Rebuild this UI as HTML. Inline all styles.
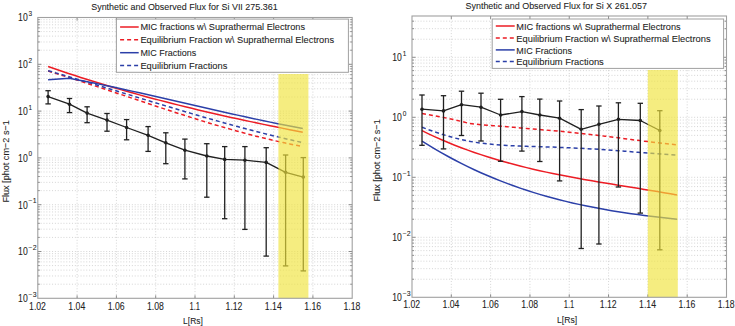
<!DOCTYPE html>
<html><head><meta charset="utf-8"><title>Synthetic and Observed Flux</title>
<style>html,body{margin:0;padding:0;background:#fff;width:735px;height:326px;overflow:hidden} text{font-family:"Liberation Sans", sans-serif;stroke:#333;stroke-width:0.08px}</style>
</head><body>
<svg width="735" height="326" viewBox="0 0 735 326" style="display:block" font-family='"Liberation Sans", sans-serif'>
<rect width="735" height="326" fill="#fff"/>
<line x1="77.1" y1="17.5" x2="77.1" y2="298.3" stroke="#d0d0d0" stroke-width="0.9" stroke-dasharray="1 1.85"/>
<line x1="116.4" y1="17.5" x2="116.4" y2="298.3" stroke="#d0d0d0" stroke-width="0.9" stroke-dasharray="1 1.85"/>
<line x1="155.7" y1="17.5" x2="155.7" y2="298.3" stroke="#d0d0d0" stroke-width="0.9" stroke-dasharray="1 1.85"/>
<line x1="195" y1="17.5" x2="195" y2="298.3" stroke="#d0d0d0" stroke-width="0.9" stroke-dasharray="1 1.85"/>
<line x1="234.3" y1="17.5" x2="234.3" y2="298.3" stroke="#d0d0d0" stroke-width="0.9" stroke-dasharray="1 1.85"/>
<line x1="273.6" y1="17.5" x2="273.6" y2="298.3" stroke="#d0d0d0" stroke-width="0.9" stroke-dasharray="1 1.85"/>
<line x1="312.9" y1="17.5" x2="312.9" y2="298.3" stroke="#d0d0d0" stroke-width="0.9" stroke-dasharray="1 1.85"/>
<line x1="37.8" y1="284.21" x2="352.2" y2="284.21" stroke="#d0d0d0" stroke-width="0.9" stroke-dasharray="1 1.85"/>
<line x1="37.8" y1="284.21" x2="39.8" y2="284.21" stroke="#808080" stroke-width="0.9"/>
<line x1="350.2" y1="284.21" x2="352.2" y2="284.21" stroke="#808080" stroke-width="0.9"/>
<line x1="37.8" y1="275.97" x2="352.2" y2="275.97" stroke="#d0d0d0" stroke-width="0.9" stroke-dasharray="1 1.85"/>
<line x1="37.8" y1="275.97" x2="39.8" y2="275.97" stroke="#808080" stroke-width="0.9"/>
<line x1="350.2" y1="275.97" x2="352.2" y2="275.97" stroke="#808080" stroke-width="0.9"/>
<line x1="37.8" y1="270.12" x2="352.2" y2="270.12" stroke="#d0d0d0" stroke-width="0.9" stroke-dasharray="1 1.85"/>
<line x1="37.8" y1="270.12" x2="39.8" y2="270.12" stroke="#808080" stroke-width="0.9"/>
<line x1="350.2" y1="270.12" x2="352.2" y2="270.12" stroke="#808080" stroke-width="0.9"/>
<line x1="37.8" y1="265.59" x2="352.2" y2="265.59" stroke="#d0d0d0" stroke-width="0.9" stroke-dasharray="1 1.85"/>
<line x1="37.8" y1="265.59" x2="39.8" y2="265.59" stroke="#808080" stroke-width="0.9"/>
<line x1="350.2" y1="265.59" x2="352.2" y2="265.59" stroke="#808080" stroke-width="0.9"/>
<line x1="37.8" y1="261.88" x2="352.2" y2="261.88" stroke="#d0d0d0" stroke-width="0.9" stroke-dasharray="1 1.85"/>
<line x1="37.8" y1="261.88" x2="39.8" y2="261.88" stroke="#808080" stroke-width="0.9"/>
<line x1="350.2" y1="261.88" x2="352.2" y2="261.88" stroke="#808080" stroke-width="0.9"/>
<line x1="37.8" y1="258.75" x2="352.2" y2="258.75" stroke="#d0d0d0" stroke-width="0.9" stroke-dasharray="1 1.85"/>
<line x1="37.8" y1="258.75" x2="39.8" y2="258.75" stroke="#808080" stroke-width="0.9"/>
<line x1="350.2" y1="258.75" x2="352.2" y2="258.75" stroke="#808080" stroke-width="0.9"/>
<line x1="37.8" y1="256.04" x2="352.2" y2="256.04" stroke="#d0d0d0" stroke-width="0.9" stroke-dasharray="1 1.85"/>
<line x1="37.8" y1="256.04" x2="39.8" y2="256.04" stroke="#808080" stroke-width="0.9"/>
<line x1="350.2" y1="256.04" x2="352.2" y2="256.04" stroke="#808080" stroke-width="0.9"/>
<line x1="37.8" y1="253.64" x2="352.2" y2="253.64" stroke="#d0d0d0" stroke-width="0.9" stroke-dasharray="1 1.85"/>
<line x1="37.8" y1="253.64" x2="39.8" y2="253.64" stroke="#808080" stroke-width="0.9"/>
<line x1="350.2" y1="253.64" x2="352.2" y2="253.64" stroke="#808080" stroke-width="0.9"/>
<line x1="37.8" y1="251.5" x2="352.2" y2="251.5" stroke="#d0d0d0" stroke-width="0.9" stroke-dasharray="1 1.85"/>
<line x1="37.8" y1="251.5" x2="41.3" y2="251.5" stroke="#808080" stroke-width="0.9"/>
<line x1="348.7" y1="251.5" x2="352.2" y2="251.5" stroke="#808080" stroke-width="0.9"/>
<line x1="37.8" y1="237.41" x2="352.2" y2="237.41" stroke="#d0d0d0" stroke-width="0.9" stroke-dasharray="1 1.85"/>
<line x1="37.8" y1="237.41" x2="39.8" y2="237.41" stroke="#808080" stroke-width="0.9"/>
<line x1="350.2" y1="237.41" x2="352.2" y2="237.41" stroke="#808080" stroke-width="0.9"/>
<line x1="37.8" y1="229.17" x2="352.2" y2="229.17" stroke="#d0d0d0" stroke-width="0.9" stroke-dasharray="1 1.85"/>
<line x1="37.8" y1="229.17" x2="39.8" y2="229.17" stroke="#808080" stroke-width="0.9"/>
<line x1="350.2" y1="229.17" x2="352.2" y2="229.17" stroke="#808080" stroke-width="0.9"/>
<line x1="37.8" y1="223.32" x2="352.2" y2="223.32" stroke="#d0d0d0" stroke-width="0.9" stroke-dasharray="1 1.85"/>
<line x1="37.8" y1="223.32" x2="39.8" y2="223.32" stroke="#808080" stroke-width="0.9"/>
<line x1="350.2" y1="223.32" x2="352.2" y2="223.32" stroke="#808080" stroke-width="0.9"/>
<line x1="37.8" y1="218.79" x2="352.2" y2="218.79" stroke="#d0d0d0" stroke-width="0.9" stroke-dasharray="1 1.85"/>
<line x1="37.8" y1="218.79" x2="39.8" y2="218.79" stroke="#808080" stroke-width="0.9"/>
<line x1="350.2" y1="218.79" x2="352.2" y2="218.79" stroke="#808080" stroke-width="0.9"/>
<line x1="37.8" y1="215.08" x2="352.2" y2="215.08" stroke="#d0d0d0" stroke-width="0.9" stroke-dasharray="1 1.85"/>
<line x1="37.8" y1="215.08" x2="39.8" y2="215.08" stroke="#808080" stroke-width="0.9"/>
<line x1="350.2" y1="215.08" x2="352.2" y2="215.08" stroke="#808080" stroke-width="0.9"/>
<line x1="37.8" y1="211.95" x2="352.2" y2="211.95" stroke="#d0d0d0" stroke-width="0.9" stroke-dasharray="1 1.85"/>
<line x1="37.8" y1="211.95" x2="39.8" y2="211.95" stroke="#808080" stroke-width="0.9"/>
<line x1="350.2" y1="211.95" x2="352.2" y2="211.95" stroke="#808080" stroke-width="0.9"/>
<line x1="37.8" y1="209.24" x2="352.2" y2="209.24" stroke="#d0d0d0" stroke-width="0.9" stroke-dasharray="1 1.85"/>
<line x1="37.8" y1="209.24" x2="39.8" y2="209.24" stroke="#808080" stroke-width="0.9"/>
<line x1="350.2" y1="209.24" x2="352.2" y2="209.24" stroke="#808080" stroke-width="0.9"/>
<line x1="37.8" y1="206.84" x2="352.2" y2="206.84" stroke="#d0d0d0" stroke-width="0.9" stroke-dasharray="1 1.85"/>
<line x1="37.8" y1="206.84" x2="39.8" y2="206.84" stroke="#808080" stroke-width="0.9"/>
<line x1="350.2" y1="206.84" x2="352.2" y2="206.84" stroke="#808080" stroke-width="0.9"/>
<line x1="37.8" y1="204.7" x2="352.2" y2="204.7" stroke="#d0d0d0" stroke-width="0.9" stroke-dasharray="1 1.85"/>
<line x1="37.8" y1="204.7" x2="41.3" y2="204.7" stroke="#808080" stroke-width="0.9"/>
<line x1="348.7" y1="204.7" x2="352.2" y2="204.7" stroke="#808080" stroke-width="0.9"/>
<line x1="37.8" y1="190.61" x2="352.2" y2="190.61" stroke="#d0d0d0" stroke-width="0.9" stroke-dasharray="1 1.85"/>
<line x1="37.8" y1="190.61" x2="39.8" y2="190.61" stroke="#808080" stroke-width="0.9"/>
<line x1="350.2" y1="190.61" x2="352.2" y2="190.61" stroke="#808080" stroke-width="0.9"/>
<line x1="37.8" y1="182.37" x2="352.2" y2="182.37" stroke="#d0d0d0" stroke-width="0.9" stroke-dasharray="1 1.85"/>
<line x1="37.8" y1="182.37" x2="39.8" y2="182.37" stroke="#808080" stroke-width="0.9"/>
<line x1="350.2" y1="182.37" x2="352.2" y2="182.37" stroke="#808080" stroke-width="0.9"/>
<line x1="37.8" y1="176.52" x2="352.2" y2="176.52" stroke="#d0d0d0" stroke-width="0.9" stroke-dasharray="1 1.85"/>
<line x1="37.8" y1="176.52" x2="39.8" y2="176.52" stroke="#808080" stroke-width="0.9"/>
<line x1="350.2" y1="176.52" x2="352.2" y2="176.52" stroke="#808080" stroke-width="0.9"/>
<line x1="37.8" y1="171.99" x2="352.2" y2="171.99" stroke="#d0d0d0" stroke-width="0.9" stroke-dasharray="1 1.85"/>
<line x1="37.8" y1="171.99" x2="39.8" y2="171.99" stroke="#808080" stroke-width="0.9"/>
<line x1="350.2" y1="171.99" x2="352.2" y2="171.99" stroke="#808080" stroke-width="0.9"/>
<line x1="37.8" y1="168.28" x2="352.2" y2="168.28" stroke="#d0d0d0" stroke-width="0.9" stroke-dasharray="1 1.85"/>
<line x1="37.8" y1="168.28" x2="39.8" y2="168.28" stroke="#808080" stroke-width="0.9"/>
<line x1="350.2" y1="168.28" x2="352.2" y2="168.28" stroke="#808080" stroke-width="0.9"/>
<line x1="37.8" y1="165.15" x2="352.2" y2="165.15" stroke="#d0d0d0" stroke-width="0.9" stroke-dasharray="1 1.85"/>
<line x1="37.8" y1="165.15" x2="39.8" y2="165.15" stroke="#808080" stroke-width="0.9"/>
<line x1="350.2" y1="165.15" x2="352.2" y2="165.15" stroke="#808080" stroke-width="0.9"/>
<line x1="37.8" y1="162.44" x2="352.2" y2="162.44" stroke="#d0d0d0" stroke-width="0.9" stroke-dasharray="1 1.85"/>
<line x1="37.8" y1="162.44" x2="39.8" y2="162.44" stroke="#808080" stroke-width="0.9"/>
<line x1="350.2" y1="162.44" x2="352.2" y2="162.44" stroke="#808080" stroke-width="0.9"/>
<line x1="37.8" y1="160.04" x2="352.2" y2="160.04" stroke="#d0d0d0" stroke-width="0.9" stroke-dasharray="1 1.85"/>
<line x1="37.8" y1="160.04" x2="39.8" y2="160.04" stroke="#808080" stroke-width="0.9"/>
<line x1="350.2" y1="160.04" x2="352.2" y2="160.04" stroke="#808080" stroke-width="0.9"/>
<line x1="37.8" y1="157.9" x2="352.2" y2="157.9" stroke="#d0d0d0" stroke-width="0.9" stroke-dasharray="1 1.85"/>
<line x1="37.8" y1="157.9" x2="41.3" y2="157.9" stroke="#808080" stroke-width="0.9"/>
<line x1="348.7" y1="157.9" x2="352.2" y2="157.9" stroke="#808080" stroke-width="0.9"/>
<line x1="37.8" y1="143.81" x2="352.2" y2="143.81" stroke="#d0d0d0" stroke-width="0.9" stroke-dasharray="1 1.85"/>
<line x1="37.8" y1="143.81" x2="39.8" y2="143.81" stroke="#808080" stroke-width="0.9"/>
<line x1="350.2" y1="143.81" x2="352.2" y2="143.81" stroke="#808080" stroke-width="0.9"/>
<line x1="37.8" y1="135.57" x2="352.2" y2="135.57" stroke="#d0d0d0" stroke-width="0.9" stroke-dasharray="1 1.85"/>
<line x1="37.8" y1="135.57" x2="39.8" y2="135.57" stroke="#808080" stroke-width="0.9"/>
<line x1="350.2" y1="135.57" x2="352.2" y2="135.57" stroke="#808080" stroke-width="0.9"/>
<line x1="37.8" y1="129.72" x2="352.2" y2="129.72" stroke="#d0d0d0" stroke-width="0.9" stroke-dasharray="1 1.85"/>
<line x1="37.8" y1="129.72" x2="39.8" y2="129.72" stroke="#808080" stroke-width="0.9"/>
<line x1="350.2" y1="129.72" x2="352.2" y2="129.72" stroke="#808080" stroke-width="0.9"/>
<line x1="37.8" y1="125.19" x2="352.2" y2="125.19" stroke="#d0d0d0" stroke-width="0.9" stroke-dasharray="1 1.85"/>
<line x1="37.8" y1="125.19" x2="39.8" y2="125.19" stroke="#808080" stroke-width="0.9"/>
<line x1="350.2" y1="125.19" x2="352.2" y2="125.19" stroke="#808080" stroke-width="0.9"/>
<line x1="37.8" y1="121.48" x2="352.2" y2="121.48" stroke="#d0d0d0" stroke-width="0.9" stroke-dasharray="1 1.85"/>
<line x1="37.8" y1="121.48" x2="39.8" y2="121.48" stroke="#808080" stroke-width="0.9"/>
<line x1="350.2" y1="121.48" x2="352.2" y2="121.48" stroke="#808080" stroke-width="0.9"/>
<line x1="37.8" y1="118.35" x2="352.2" y2="118.35" stroke="#d0d0d0" stroke-width="0.9" stroke-dasharray="1 1.85"/>
<line x1="37.8" y1="118.35" x2="39.8" y2="118.35" stroke="#808080" stroke-width="0.9"/>
<line x1="350.2" y1="118.35" x2="352.2" y2="118.35" stroke="#808080" stroke-width="0.9"/>
<line x1="37.8" y1="115.64" x2="352.2" y2="115.64" stroke="#d0d0d0" stroke-width="0.9" stroke-dasharray="1 1.85"/>
<line x1="37.8" y1="115.64" x2="39.8" y2="115.64" stroke="#808080" stroke-width="0.9"/>
<line x1="350.2" y1="115.64" x2="352.2" y2="115.64" stroke="#808080" stroke-width="0.9"/>
<line x1="37.8" y1="113.24" x2="352.2" y2="113.24" stroke="#d0d0d0" stroke-width="0.9" stroke-dasharray="1 1.85"/>
<line x1="37.8" y1="113.24" x2="39.8" y2="113.24" stroke="#808080" stroke-width="0.9"/>
<line x1="350.2" y1="113.24" x2="352.2" y2="113.24" stroke="#808080" stroke-width="0.9"/>
<line x1="37.8" y1="111.1" x2="352.2" y2="111.1" stroke="#d0d0d0" stroke-width="0.9" stroke-dasharray="1 1.85"/>
<line x1="37.8" y1="111.1" x2="41.3" y2="111.1" stroke="#808080" stroke-width="0.9"/>
<line x1="348.7" y1="111.1" x2="352.2" y2="111.1" stroke="#808080" stroke-width="0.9"/>
<line x1="37.8" y1="97.01" x2="352.2" y2="97.01" stroke="#d0d0d0" stroke-width="0.9" stroke-dasharray="1 1.85"/>
<line x1="37.8" y1="97.01" x2="39.8" y2="97.01" stroke="#808080" stroke-width="0.9"/>
<line x1="350.2" y1="97.01" x2="352.2" y2="97.01" stroke="#808080" stroke-width="0.9"/>
<line x1="37.8" y1="88.77" x2="352.2" y2="88.77" stroke="#d0d0d0" stroke-width="0.9" stroke-dasharray="1 1.85"/>
<line x1="37.8" y1="88.77" x2="39.8" y2="88.77" stroke="#808080" stroke-width="0.9"/>
<line x1="350.2" y1="88.77" x2="352.2" y2="88.77" stroke="#808080" stroke-width="0.9"/>
<line x1="37.8" y1="82.92" x2="352.2" y2="82.92" stroke="#d0d0d0" stroke-width="0.9" stroke-dasharray="1 1.85"/>
<line x1="37.8" y1="82.92" x2="39.8" y2="82.92" stroke="#808080" stroke-width="0.9"/>
<line x1="350.2" y1="82.92" x2="352.2" y2="82.92" stroke="#808080" stroke-width="0.9"/>
<line x1="37.8" y1="78.39" x2="352.2" y2="78.39" stroke="#d0d0d0" stroke-width="0.9" stroke-dasharray="1 1.85"/>
<line x1="37.8" y1="78.39" x2="39.8" y2="78.39" stroke="#808080" stroke-width="0.9"/>
<line x1="350.2" y1="78.39" x2="352.2" y2="78.39" stroke="#808080" stroke-width="0.9"/>
<line x1="37.8" y1="74.68" x2="352.2" y2="74.68" stroke="#d0d0d0" stroke-width="0.9" stroke-dasharray="1 1.85"/>
<line x1="37.8" y1="74.68" x2="39.8" y2="74.68" stroke="#808080" stroke-width="0.9"/>
<line x1="350.2" y1="74.68" x2="352.2" y2="74.68" stroke="#808080" stroke-width="0.9"/>
<line x1="37.8" y1="71.55" x2="352.2" y2="71.55" stroke="#d0d0d0" stroke-width="0.9" stroke-dasharray="1 1.85"/>
<line x1="37.8" y1="71.55" x2="39.8" y2="71.55" stroke="#808080" stroke-width="0.9"/>
<line x1="350.2" y1="71.55" x2="352.2" y2="71.55" stroke="#808080" stroke-width="0.9"/>
<line x1="37.8" y1="68.84" x2="352.2" y2="68.84" stroke="#d0d0d0" stroke-width="0.9" stroke-dasharray="1 1.85"/>
<line x1="37.8" y1="68.84" x2="39.8" y2="68.84" stroke="#808080" stroke-width="0.9"/>
<line x1="350.2" y1="68.84" x2="352.2" y2="68.84" stroke="#808080" stroke-width="0.9"/>
<line x1="37.8" y1="66.44" x2="352.2" y2="66.44" stroke="#d0d0d0" stroke-width="0.9" stroke-dasharray="1 1.85"/>
<line x1="37.8" y1="66.44" x2="39.8" y2="66.44" stroke="#808080" stroke-width="0.9"/>
<line x1="350.2" y1="66.44" x2="352.2" y2="66.44" stroke="#808080" stroke-width="0.9"/>
<line x1="37.8" y1="64.3" x2="352.2" y2="64.3" stroke="#d0d0d0" stroke-width="0.9" stroke-dasharray="1 1.85"/>
<line x1="37.8" y1="64.3" x2="41.3" y2="64.3" stroke="#808080" stroke-width="0.9"/>
<line x1="348.7" y1="64.3" x2="352.2" y2="64.3" stroke="#808080" stroke-width="0.9"/>
<line x1="37.8" y1="50.21" x2="352.2" y2="50.21" stroke="#d0d0d0" stroke-width="0.9" stroke-dasharray="1 1.85"/>
<line x1="37.8" y1="50.21" x2="39.8" y2="50.21" stroke="#808080" stroke-width="0.9"/>
<line x1="350.2" y1="50.21" x2="352.2" y2="50.21" stroke="#808080" stroke-width="0.9"/>
<line x1="37.8" y1="41.97" x2="352.2" y2="41.97" stroke="#d0d0d0" stroke-width="0.9" stroke-dasharray="1 1.85"/>
<line x1="37.8" y1="41.97" x2="39.8" y2="41.97" stroke="#808080" stroke-width="0.9"/>
<line x1="350.2" y1="41.97" x2="352.2" y2="41.97" stroke="#808080" stroke-width="0.9"/>
<line x1="37.8" y1="36.12" x2="352.2" y2="36.12" stroke="#d0d0d0" stroke-width="0.9" stroke-dasharray="1 1.85"/>
<line x1="37.8" y1="36.12" x2="39.8" y2="36.12" stroke="#808080" stroke-width="0.9"/>
<line x1="350.2" y1="36.12" x2="352.2" y2="36.12" stroke="#808080" stroke-width="0.9"/>
<line x1="37.8" y1="31.59" x2="352.2" y2="31.59" stroke="#d0d0d0" stroke-width="0.9" stroke-dasharray="1 1.85"/>
<line x1="37.8" y1="31.59" x2="39.8" y2="31.59" stroke="#808080" stroke-width="0.9"/>
<line x1="350.2" y1="31.59" x2="352.2" y2="31.59" stroke="#808080" stroke-width="0.9"/>
<line x1="37.8" y1="27.88" x2="352.2" y2="27.88" stroke="#d0d0d0" stroke-width="0.9" stroke-dasharray="1 1.85"/>
<line x1="37.8" y1="27.88" x2="39.8" y2="27.88" stroke="#808080" stroke-width="0.9"/>
<line x1="350.2" y1="27.88" x2="352.2" y2="27.88" stroke="#808080" stroke-width="0.9"/>
<line x1="37.8" y1="24.75" x2="352.2" y2="24.75" stroke="#d0d0d0" stroke-width="0.9" stroke-dasharray="1 1.85"/>
<line x1="37.8" y1="24.75" x2="39.8" y2="24.75" stroke="#808080" stroke-width="0.9"/>
<line x1="350.2" y1="24.75" x2="352.2" y2="24.75" stroke="#808080" stroke-width="0.9"/>
<line x1="37.8" y1="22.04" x2="352.2" y2="22.04" stroke="#d0d0d0" stroke-width="0.9" stroke-dasharray="1 1.85"/>
<line x1="37.8" y1="22.04" x2="39.8" y2="22.04" stroke="#808080" stroke-width="0.9"/>
<line x1="350.2" y1="22.04" x2="352.2" y2="22.04" stroke="#808080" stroke-width="0.9"/>
<line x1="37.8" y1="19.64" x2="352.2" y2="19.64" stroke="#d0d0d0" stroke-width="0.9" stroke-dasharray="1 1.85"/>
<line x1="37.8" y1="19.64" x2="39.8" y2="19.64" stroke="#808080" stroke-width="0.9"/>
<line x1="350.2" y1="19.64" x2="352.2" y2="19.64" stroke="#808080" stroke-width="0.9"/>
<line x1="77.1" y1="298.3" x2="77.1" y2="295.3" stroke="#808080" stroke-width="0.9"/>
<line x1="77.1" y1="17.5" x2="77.1" y2="20.5" stroke="#808080" stroke-width="0.9"/>
<line x1="116.4" y1="298.3" x2="116.4" y2="295.3" stroke="#808080" stroke-width="0.9"/>
<line x1="116.4" y1="17.5" x2="116.4" y2="20.5" stroke="#808080" stroke-width="0.9"/>
<line x1="155.7" y1="298.3" x2="155.7" y2="295.3" stroke="#808080" stroke-width="0.9"/>
<line x1="155.7" y1="17.5" x2="155.7" y2="20.5" stroke="#808080" stroke-width="0.9"/>
<line x1="195" y1="298.3" x2="195" y2="295.3" stroke="#808080" stroke-width="0.9"/>
<line x1="195" y1="17.5" x2="195" y2="20.5" stroke="#808080" stroke-width="0.9"/>
<line x1="234.3" y1="298.3" x2="234.3" y2="295.3" stroke="#808080" stroke-width="0.9"/>
<line x1="234.3" y1="17.5" x2="234.3" y2="20.5" stroke="#808080" stroke-width="0.9"/>
<line x1="273.6" y1="298.3" x2="273.6" y2="295.3" stroke="#808080" stroke-width="0.9"/>
<line x1="273.6" y1="17.5" x2="273.6" y2="20.5" stroke="#808080" stroke-width="0.9"/>
<line x1="312.9" y1="298.3" x2="312.9" y2="295.3" stroke="#808080" stroke-width="0.9"/>
<line x1="312.9" y1="17.5" x2="312.9" y2="20.5" stroke="#808080" stroke-width="0.9"/>
<polyline points="48.1,66.52 54.63,68.78 61.16,71.01 67.69,73.19 74.22,75.33 80.75,77.44 87.28,79.52 93.82,81.55 100.35,83.56 106.88,85.52 113.41,87.46 119.94,89.36 126.47,91.23 133,93.07 139.53,94.88 146.06,96.66 152.59,98.41 159.12,100.13 165.65,101.83 172.18,103.5 178.72,105.14 185.25,106.75 191.78,108.34 198.31,109.91 204.84,111.45 211.37,112.97 217.9,114.47 224.43,115.94 230.96,117.4 237.49,118.83 244.02,120.25 250.55,121.64 257.08,123.02 263.62,124.38 270.15,125.73 276.68,127.06 283.21,128.37 289.74,129.67 296.27,130.96 302.8,132.23" fill="none" stroke="#ec1c24" stroke-width="1.5" stroke-linejoin="round"/>
<polyline points="48.1,71.08 54.63,73.07 61.16,75.08 67.69,77.13 74.22,79.2 80.75,81.29 87.28,83.4 93.82,85.53 100.35,87.67 106.88,89.83 113.41,91.99 119.94,94.16 126.47,96.33 133,98.51 139.53,100.68 146.06,102.85 152.59,105.01 159.12,107.16 165.65,109.3 172.18,111.42 178.72,113.53 185.25,115.61 191.78,117.67 198.31,119.71 204.84,121.72 211.37,123.69 217.9,125.63 224.43,127.54 230.96,129.4 237.49,131.22 244.02,133 250.55,134.73 257.08,136.41 263.62,138.03 270.15,139.6 276.68,141.12 283.21,142.57 289.74,143.95 296.27,145.27 302.8,146.53" fill="none" stroke="#ec1c24" stroke-width="1.5" stroke-dasharray="4 3" stroke-linejoin="round"/>
<polyline points="48.1,79.8 69.6,78.3 74.22,79.18 80.75,80.43 87.28,81.71 93.82,83.02 100.35,84.36 106.88,85.72 113.41,87.1 119.94,88.5 126.47,89.92 133,91.36 139.53,92.82 146.06,94.28 152.59,95.76 159.12,97.25 165.65,98.74 172.18,100.24 178.72,101.74 185.25,103.25 191.78,104.75 198.31,106.26 204.84,107.76 211.37,109.25 217.9,110.74 224.43,112.21 230.96,113.68 237.49,115.13 244.02,116.57 250.55,117.99 257.08,119.39 263.62,120.77 270.15,122.13 276.68,123.46 283.21,124.77 289.74,126.05 296.27,127.3 302.8,128.52" fill="none" stroke="#2b3fa8" stroke-width="1.5" stroke-linejoin="round"/>
<polyline points="48.1,70.72 54.63,72.59 61.16,74.47 67.69,76.37 74.22,78.29 80.75,80.22 87.28,82.16 93.82,84.12 100.35,86.08 106.88,88.05 113.41,90.03 119.94,92.01 126.47,94 133,95.98 139.53,97.97 146.06,99.95 152.59,101.93 159.12,103.9 165.65,105.86 172.18,107.82 178.72,109.77 185.25,111.7 191.78,113.62 198.31,115.53 204.84,117.42 211.37,119.29 217.9,121.14 224.43,122.97 230.96,124.77 237.49,126.55 244.02,128.3 250.55,130.03 257.08,131.72 263.62,133.38 270.15,135.01 276.68,136.61 283.21,138.16 289.74,139.68 296.27,141.16 302.8,142.6" fill="none" stroke="#2b3fa8" stroke-width="1.5" stroke-dasharray="4 3" stroke-linejoin="round"/>
<polyline points="48.1,96.6 69.5,104.2 87.1,113.1 107,120.1 126.6,127.5 148.1,135.3 165.8,142.8 184.9,150.2 206.8,156 224.7,159.4 244.9,160.2 266.2,162.4 285.6,172.3 303.3,177.1" fill="none" stroke="#202020" stroke-width="1.3" stroke-linejoin="round"/>
<line x1="48.1" y1="90.7" x2="48.1" y2="103.9" stroke="#202020" stroke-width="1.3"/>
<line x1="45.4" y1="90.7" x2="50.8" y2="90.7" stroke="#202020" stroke-width="1.3"/>
<line x1="45.4" y1="103.9" x2="50.8" y2="103.9" stroke="#202020" stroke-width="1.3"/>
<circle cx="48.1" cy="96.6" r="1.8" fill="#202020"/>
<line x1="69.5" y1="98.5" x2="69.5" y2="112.6" stroke="#202020" stroke-width="1.3"/>
<line x1="66.8" y1="98.5" x2="72.2" y2="98.5" stroke="#202020" stroke-width="1.3"/>
<line x1="66.8" y1="112.6" x2="72.2" y2="112.6" stroke="#202020" stroke-width="1.3"/>
<circle cx="69.5" cy="104.2" r="1.8" fill="#202020"/>
<line x1="87.1" y1="106.8" x2="87.1" y2="122.7" stroke="#202020" stroke-width="1.3"/>
<line x1="84.4" y1="106.8" x2="89.8" y2="106.8" stroke="#202020" stroke-width="1.3"/>
<line x1="84.4" y1="122.7" x2="89.8" y2="122.7" stroke="#202020" stroke-width="1.3"/>
<circle cx="87.1" cy="113.1" r="1.8" fill="#202020"/>
<line x1="107" y1="113.5" x2="107" y2="131.2" stroke="#202020" stroke-width="1.3"/>
<line x1="104.3" y1="113.5" x2="109.7" y2="113.5" stroke="#202020" stroke-width="1.3"/>
<line x1="104.3" y1="131.2" x2="109.7" y2="131.2" stroke="#202020" stroke-width="1.3"/>
<circle cx="107" cy="120.1" r="1.8" fill="#202020"/>
<line x1="126.6" y1="119.6" x2="126.6" y2="139.8" stroke="#202020" stroke-width="1.3"/>
<line x1="123.9" y1="119.6" x2="129.3" y2="119.6" stroke="#202020" stroke-width="1.3"/>
<line x1="123.9" y1="139.8" x2="129.3" y2="139.8" stroke="#202020" stroke-width="1.3"/>
<circle cx="126.6" cy="127.5" r="1.8" fill="#202020"/>
<line x1="148.1" y1="126.6" x2="148.1" y2="151.4" stroke="#202020" stroke-width="1.3"/>
<line x1="145.4" y1="126.6" x2="150.8" y2="126.6" stroke="#202020" stroke-width="1.3"/>
<line x1="145.4" y1="151.4" x2="150.8" y2="151.4" stroke="#202020" stroke-width="1.3"/>
<circle cx="148.1" cy="135.3" r="1.8" fill="#202020"/>
<line x1="165.8" y1="132.8" x2="165.8" y2="163.7" stroke="#202020" stroke-width="1.3"/>
<line x1="163.1" y1="132.8" x2="168.5" y2="132.8" stroke="#202020" stroke-width="1.3"/>
<line x1="163.1" y1="163.7" x2="168.5" y2="163.7" stroke="#202020" stroke-width="1.3"/>
<circle cx="165.8" cy="142.8" r="1.8" fill="#202020"/>
<line x1="184.9" y1="139.1" x2="184.9" y2="178.9" stroke="#202020" stroke-width="1.3"/>
<line x1="182.2" y1="139.1" x2="187.6" y2="139.1" stroke="#202020" stroke-width="1.3"/>
<line x1="182.2" y1="178.9" x2="187.6" y2="178.9" stroke="#202020" stroke-width="1.3"/>
<circle cx="184.9" cy="150.2" r="1.8" fill="#202020"/>
<line x1="206.8" y1="143.7" x2="206.8" y2="197.2" stroke="#202020" stroke-width="1.3"/>
<line x1="204.1" y1="143.7" x2="209.5" y2="143.7" stroke="#202020" stroke-width="1.3"/>
<line x1="204.1" y1="197.2" x2="209.5" y2="197.2" stroke="#202020" stroke-width="1.3"/>
<circle cx="206.8" cy="156" r="1.8" fill="#202020"/>
<line x1="224.7" y1="146.6" x2="224.7" y2="218.7" stroke="#202020" stroke-width="1.3"/>
<line x1="222" y1="146.6" x2="227.4" y2="146.6" stroke="#202020" stroke-width="1.3"/>
<line x1="222" y1="218.7" x2="227.4" y2="218.7" stroke="#202020" stroke-width="1.3"/>
<circle cx="224.7" cy="159.4" r="1.8" fill="#202020"/>
<line x1="244.9" y1="146.6" x2="244.9" y2="229.4" stroke="#202020" stroke-width="1.3"/>
<line x1="242.2" y1="146.6" x2="247.6" y2="146.6" stroke="#202020" stroke-width="1.3"/>
<line x1="242.2" y1="229.4" x2="247.6" y2="229.4" stroke="#202020" stroke-width="1.3"/>
<circle cx="244.9" cy="160.2" r="1.8" fill="#202020"/>
<line x1="266.2" y1="147.7" x2="266.2" y2="256.1" stroke="#202020" stroke-width="1.3"/>
<line x1="263.5" y1="147.7" x2="268.9" y2="147.7" stroke="#202020" stroke-width="1.3"/>
<line x1="263.5" y1="256.1" x2="268.9" y2="256.1" stroke="#202020" stroke-width="1.3"/>
<circle cx="266.2" cy="162.4" r="1.8" fill="#202020"/>
<line x1="285.6" y1="155" x2="285.6" y2="265.9" stroke="#202020" stroke-width="1.3"/>
<line x1="282.9" y1="155" x2="288.3" y2="155" stroke="#202020" stroke-width="1.3"/>
<line x1="282.9" y1="265.9" x2="288.3" y2="265.9" stroke="#202020" stroke-width="1.3"/>
<circle cx="285.6" cy="172.3" r="1.8" fill="#202020"/>
<line x1="303.3" y1="157.6" x2="303.3" y2="270.9" stroke="#202020" stroke-width="1.3"/>
<line x1="300.6" y1="157.6" x2="306" y2="157.6" stroke="#202020" stroke-width="1.3"/>
<line x1="300.6" y1="270.9" x2="306" y2="270.9" stroke="#202020" stroke-width="1.3"/>
<circle cx="303.3" cy="177.1" r="1.8" fill="#202020"/>
<rect x="278.4" y="74" width="30" height="224.3" fill="#f0e43c" fill-opacity="0.65"/>
<rect x="116.4" y="19.1" width="232" height="53.2" fill="#ffffff" stroke="#a0a0a0" stroke-width="1"/>
<polyline points="120.1,27 138.7,27" fill="none" stroke="#ec1c24" stroke-width="1.5" stroke-linejoin="round"/>
<text x="140.4" y="30.4" font-size="9.8" text-anchor="start" fill="#1a1a1a" textLength="164.6" lengthAdjust="spacingAndGlyphs">MIC fractions w\ Suprathermal Electrons</text>
<polyline points="120.1,39.8 138.7,39.8" fill="none" stroke="#ec1c24" stroke-width="1.5" stroke-dasharray="4 3" stroke-linejoin="round"/>
<text x="140.4" y="43.2" font-size="9.8" text-anchor="start" fill="#1a1a1a" textLength="193.7" lengthAdjust="spacingAndGlyphs">Equilibrium Fraction w\ Suprathermal Electrons</text>
<polyline points="120.1,52.7 138.7,52.7" fill="none" stroke="#2b3fa8" stroke-width="1.5" stroke-linejoin="round"/>
<text x="140.4" y="56.1" font-size="9.8" text-anchor="start" fill="#1a1a1a" textLength="55.8" lengthAdjust="spacingAndGlyphs">MIC Fractions</text>
<polyline points="120.1,65.4 138.7,65.4" fill="none" stroke="#2b3fa8" stroke-width="1.5" stroke-dasharray="4 3" stroke-linejoin="round"/>
<text x="140.4" y="68.8" font-size="9.8" text-anchor="start" fill="#1a1a1a" textLength="87" lengthAdjust="spacingAndGlyphs">Equilibrium Fractions</text>
<rect x="37.8" y="17.5" width="314.4" height="280.8" fill="none" stroke="#a0a0a0" stroke-width="1.1"/>
<text x="29.05" y="309.6" font-size="10.2" text-anchor="start" fill="#1a1a1a" textLength="16.9" lengthAdjust="spacingAndGlyphs">1.02</text>
<text x="68.35" y="309.6" font-size="10.2" text-anchor="start" fill="#1a1a1a" textLength="16.9" lengthAdjust="spacingAndGlyphs">1.04</text>
<text x="107.65" y="309.6" font-size="10.2" text-anchor="start" fill="#1a1a1a" textLength="16.9" lengthAdjust="spacingAndGlyphs">1.06</text>
<text x="146.95" y="309.6" font-size="10.2" text-anchor="start" fill="#1a1a1a" textLength="16.9" lengthAdjust="spacingAndGlyphs">1.08</text>
<text x="189.45" y="309.6" font-size="10.2" text-anchor="start" fill="#1a1a1a" textLength="10.5" lengthAdjust="spacingAndGlyphs">1.1</text>
<text x="225.55" y="309.6" font-size="10.2" text-anchor="start" fill="#1a1a1a" textLength="16.9" lengthAdjust="spacingAndGlyphs">1.12</text>
<text x="264.85" y="309.6" font-size="10.2" text-anchor="start" fill="#1a1a1a" textLength="16.9" lengthAdjust="spacingAndGlyphs">1.14</text>
<text x="304.15" y="309.6" font-size="10.2" text-anchor="start" fill="#1a1a1a" textLength="16.9" lengthAdjust="spacingAndGlyphs">1.16</text>
<text x="343.45" y="309.6" font-size="10.2" text-anchor="start" fill="#1a1a1a" textLength="16.9" lengthAdjust="spacingAndGlyphs">1.18</text>
<text x="18.1" y="302.2" font-size="10.2" text-anchor="start" fill="#1a1a1a" textLength="9.6" lengthAdjust="spacingAndGlyphs">10</text>
<text x="28.6" y="296.8" font-size="6.5" text-anchor="start" fill="#1a1a1a" textLength="7.9" lengthAdjust="spacingAndGlyphs">−3</text>
<text x="18.1" y="255.4" font-size="10.2" text-anchor="start" fill="#1a1a1a" textLength="9.6" lengthAdjust="spacingAndGlyphs">10</text>
<text x="28.6" y="250" font-size="6.5" text-anchor="start" fill="#1a1a1a" textLength="7.9" lengthAdjust="spacingAndGlyphs">−2</text>
<text x="18.1" y="208.6" font-size="10.2" text-anchor="start" fill="#1a1a1a" textLength="9.6" lengthAdjust="spacingAndGlyphs">10</text>
<text x="28.6" y="203.2" font-size="6.5" text-anchor="start" fill="#1a1a1a" textLength="7.9" lengthAdjust="spacingAndGlyphs">−1</text>
<text x="18.1" y="161.8" font-size="10.2" text-anchor="start" fill="#1a1a1a" textLength="9.6" lengthAdjust="spacingAndGlyphs">10</text>
<text x="28.6" y="156.4" font-size="6.5" text-anchor="start" fill="#1a1a1a" textLength="3.6" lengthAdjust="spacingAndGlyphs">0</text>
<text x="18.1" y="115" font-size="10.2" text-anchor="start" fill="#1a1a1a" textLength="9.6" lengthAdjust="spacingAndGlyphs">10</text>
<text x="28.6" y="109.6" font-size="6.5" text-anchor="start" fill="#1a1a1a" textLength="3.6" lengthAdjust="spacingAndGlyphs">1</text>
<text x="18.1" y="68.2" font-size="10.2" text-anchor="start" fill="#1a1a1a" textLength="9.6" lengthAdjust="spacingAndGlyphs">10</text>
<text x="28.6" y="62.8" font-size="6.5" text-anchor="start" fill="#1a1a1a" textLength="3.6" lengthAdjust="spacingAndGlyphs">2</text>
<text x="18.1" y="21.4" font-size="10.2" text-anchor="start" fill="#1a1a1a" textLength="9.6" lengthAdjust="spacingAndGlyphs">10</text>
<text x="28.6" y="16" font-size="6.5" text-anchor="start" fill="#1a1a1a" textLength="3.6" lengthAdjust="spacingAndGlyphs">3</text>
<text x="91.2" y="9.6" font-size="9.8" text-anchor="start" fill="#1a1a1a" textLength="186.5" lengthAdjust="spacingAndGlyphs">Synthetic and Observed Flux for Si VII 275.361</text>
<text x="183.1" y="323.5" font-size="9.8" text-anchor="start" fill="#1a1a1a" textLength="19.7" lengthAdjust="spacingAndGlyphs">L[Rs]</text>
<text x="0" y="0" font-size="9.8" fill="#1a1a1a" textLength="82.4" lengthAdjust="spacingAndGlyphs" transform="translate(8.9,202.6) rotate(-90)">Flux [phot cm−2 s−1</text>
<line x1="451.31" y1="16" x2="451.31" y2="297.3" stroke="#d0d0d0" stroke-width="0.9" stroke-dasharray="1 1.85"/>
<line x1="490.62" y1="16" x2="490.62" y2="297.3" stroke="#d0d0d0" stroke-width="0.9" stroke-dasharray="1 1.85"/>
<line x1="529.94" y1="16" x2="529.94" y2="297.3" stroke="#d0d0d0" stroke-width="0.9" stroke-dasharray="1 1.85"/>
<line x1="569.25" y1="16" x2="569.25" y2="297.3" stroke="#d0d0d0" stroke-width="0.9" stroke-dasharray="1 1.85"/>
<line x1="608.56" y1="16" x2="608.56" y2="297.3" stroke="#d0d0d0" stroke-width="0.9" stroke-dasharray="1 1.85"/>
<line x1="647.88" y1="16" x2="647.88" y2="297.3" stroke="#d0d0d0" stroke-width="0.9" stroke-dasharray="1 1.85"/>
<line x1="687.19" y1="16" x2="687.19" y2="297.3" stroke="#d0d0d0" stroke-width="0.9" stroke-dasharray="1 1.85"/>
<line x1="412" y1="279.24" x2="726.5" y2="279.24" stroke="#d0d0d0" stroke-width="0.9" stroke-dasharray="1 1.85"/>
<line x1="412" y1="279.24" x2="414" y2="279.24" stroke="#808080" stroke-width="0.9"/>
<line x1="724.5" y1="279.24" x2="726.5" y2="279.24" stroke="#808080" stroke-width="0.9"/>
<line x1="412" y1="268.67" x2="726.5" y2="268.67" stroke="#d0d0d0" stroke-width="0.9" stroke-dasharray="1 1.85"/>
<line x1="412" y1="268.67" x2="414" y2="268.67" stroke="#808080" stroke-width="0.9"/>
<line x1="724.5" y1="268.67" x2="726.5" y2="268.67" stroke="#808080" stroke-width="0.9"/>
<line x1="412" y1="261.18" x2="726.5" y2="261.18" stroke="#d0d0d0" stroke-width="0.9" stroke-dasharray="1 1.85"/>
<line x1="412" y1="261.18" x2="414" y2="261.18" stroke="#808080" stroke-width="0.9"/>
<line x1="724.5" y1="261.18" x2="726.5" y2="261.18" stroke="#808080" stroke-width="0.9"/>
<line x1="412" y1="255.36" x2="726.5" y2="255.36" stroke="#d0d0d0" stroke-width="0.9" stroke-dasharray="1 1.85"/>
<line x1="412" y1="255.36" x2="414" y2="255.36" stroke="#808080" stroke-width="0.9"/>
<line x1="724.5" y1="255.36" x2="726.5" y2="255.36" stroke="#808080" stroke-width="0.9"/>
<line x1="412" y1="250.61" x2="726.5" y2="250.61" stroke="#d0d0d0" stroke-width="0.9" stroke-dasharray="1 1.85"/>
<line x1="412" y1="250.61" x2="414" y2="250.61" stroke="#808080" stroke-width="0.9"/>
<line x1="724.5" y1="250.61" x2="726.5" y2="250.61" stroke="#808080" stroke-width="0.9"/>
<line x1="412" y1="246.59" x2="726.5" y2="246.59" stroke="#d0d0d0" stroke-width="0.9" stroke-dasharray="1 1.85"/>
<line x1="412" y1="246.59" x2="414" y2="246.59" stroke="#808080" stroke-width="0.9"/>
<line x1="724.5" y1="246.59" x2="726.5" y2="246.59" stroke="#808080" stroke-width="0.9"/>
<line x1="412" y1="243.11" x2="726.5" y2="243.11" stroke="#d0d0d0" stroke-width="0.9" stroke-dasharray="1 1.85"/>
<line x1="412" y1="243.11" x2="414" y2="243.11" stroke="#808080" stroke-width="0.9"/>
<line x1="724.5" y1="243.11" x2="726.5" y2="243.11" stroke="#808080" stroke-width="0.9"/>
<line x1="412" y1="240.05" x2="726.5" y2="240.05" stroke="#d0d0d0" stroke-width="0.9" stroke-dasharray="1 1.85"/>
<line x1="412" y1="240.05" x2="414" y2="240.05" stroke="#808080" stroke-width="0.9"/>
<line x1="724.5" y1="240.05" x2="726.5" y2="240.05" stroke="#808080" stroke-width="0.9"/>
<line x1="412" y1="237.3" x2="726.5" y2="237.3" stroke="#d0d0d0" stroke-width="0.9" stroke-dasharray="1 1.85"/>
<line x1="412" y1="237.3" x2="415.5" y2="237.3" stroke="#808080" stroke-width="0.9"/>
<line x1="723" y1="237.3" x2="726.5" y2="237.3" stroke="#808080" stroke-width="0.9"/>
<line x1="412" y1="219.24" x2="726.5" y2="219.24" stroke="#d0d0d0" stroke-width="0.9" stroke-dasharray="1 1.85"/>
<line x1="412" y1="219.24" x2="414" y2="219.24" stroke="#808080" stroke-width="0.9"/>
<line x1="724.5" y1="219.24" x2="726.5" y2="219.24" stroke="#808080" stroke-width="0.9"/>
<line x1="412" y1="208.67" x2="726.5" y2="208.67" stroke="#d0d0d0" stroke-width="0.9" stroke-dasharray="1 1.85"/>
<line x1="412" y1="208.67" x2="414" y2="208.67" stroke="#808080" stroke-width="0.9"/>
<line x1="724.5" y1="208.67" x2="726.5" y2="208.67" stroke="#808080" stroke-width="0.9"/>
<line x1="412" y1="201.18" x2="726.5" y2="201.18" stroke="#d0d0d0" stroke-width="0.9" stroke-dasharray="1 1.85"/>
<line x1="412" y1="201.18" x2="414" y2="201.18" stroke="#808080" stroke-width="0.9"/>
<line x1="724.5" y1="201.18" x2="726.5" y2="201.18" stroke="#808080" stroke-width="0.9"/>
<line x1="412" y1="195.36" x2="726.5" y2="195.36" stroke="#d0d0d0" stroke-width="0.9" stroke-dasharray="1 1.85"/>
<line x1="412" y1="195.36" x2="414" y2="195.36" stroke="#808080" stroke-width="0.9"/>
<line x1="724.5" y1="195.36" x2="726.5" y2="195.36" stroke="#808080" stroke-width="0.9"/>
<line x1="412" y1="190.61" x2="726.5" y2="190.61" stroke="#d0d0d0" stroke-width="0.9" stroke-dasharray="1 1.85"/>
<line x1="412" y1="190.61" x2="414" y2="190.61" stroke="#808080" stroke-width="0.9"/>
<line x1="724.5" y1="190.61" x2="726.5" y2="190.61" stroke="#808080" stroke-width="0.9"/>
<line x1="412" y1="186.59" x2="726.5" y2="186.59" stroke="#d0d0d0" stroke-width="0.9" stroke-dasharray="1 1.85"/>
<line x1="412" y1="186.59" x2="414" y2="186.59" stroke="#808080" stroke-width="0.9"/>
<line x1="724.5" y1="186.59" x2="726.5" y2="186.59" stroke="#808080" stroke-width="0.9"/>
<line x1="412" y1="183.11" x2="726.5" y2="183.11" stroke="#d0d0d0" stroke-width="0.9" stroke-dasharray="1 1.85"/>
<line x1="412" y1="183.11" x2="414" y2="183.11" stroke="#808080" stroke-width="0.9"/>
<line x1="724.5" y1="183.11" x2="726.5" y2="183.11" stroke="#808080" stroke-width="0.9"/>
<line x1="412" y1="180.05" x2="726.5" y2="180.05" stroke="#d0d0d0" stroke-width="0.9" stroke-dasharray="1 1.85"/>
<line x1="412" y1="180.05" x2="414" y2="180.05" stroke="#808080" stroke-width="0.9"/>
<line x1="724.5" y1="180.05" x2="726.5" y2="180.05" stroke="#808080" stroke-width="0.9"/>
<line x1="412" y1="177.3" x2="726.5" y2="177.3" stroke="#d0d0d0" stroke-width="0.9" stroke-dasharray="1 1.85"/>
<line x1="412" y1="177.3" x2="415.5" y2="177.3" stroke="#808080" stroke-width="0.9"/>
<line x1="723" y1="177.3" x2="726.5" y2="177.3" stroke="#808080" stroke-width="0.9"/>
<line x1="412" y1="159.24" x2="726.5" y2="159.24" stroke="#d0d0d0" stroke-width="0.9" stroke-dasharray="1 1.85"/>
<line x1="412" y1="159.24" x2="414" y2="159.24" stroke="#808080" stroke-width="0.9"/>
<line x1="724.5" y1="159.24" x2="726.5" y2="159.24" stroke="#808080" stroke-width="0.9"/>
<line x1="412" y1="148.67" x2="726.5" y2="148.67" stroke="#d0d0d0" stroke-width="0.9" stroke-dasharray="1 1.85"/>
<line x1="412" y1="148.67" x2="414" y2="148.67" stroke="#808080" stroke-width="0.9"/>
<line x1="724.5" y1="148.67" x2="726.5" y2="148.67" stroke="#808080" stroke-width="0.9"/>
<line x1="412" y1="141.18" x2="726.5" y2="141.18" stroke="#d0d0d0" stroke-width="0.9" stroke-dasharray="1 1.85"/>
<line x1="412" y1="141.18" x2="414" y2="141.18" stroke="#808080" stroke-width="0.9"/>
<line x1="724.5" y1="141.18" x2="726.5" y2="141.18" stroke="#808080" stroke-width="0.9"/>
<line x1="412" y1="135.36" x2="726.5" y2="135.36" stroke="#d0d0d0" stroke-width="0.9" stroke-dasharray="1 1.85"/>
<line x1="412" y1="135.36" x2="414" y2="135.36" stroke="#808080" stroke-width="0.9"/>
<line x1="724.5" y1="135.36" x2="726.5" y2="135.36" stroke="#808080" stroke-width="0.9"/>
<line x1="412" y1="130.61" x2="726.5" y2="130.61" stroke="#d0d0d0" stroke-width="0.9" stroke-dasharray="1 1.85"/>
<line x1="412" y1="130.61" x2="414" y2="130.61" stroke="#808080" stroke-width="0.9"/>
<line x1="724.5" y1="130.61" x2="726.5" y2="130.61" stroke="#808080" stroke-width="0.9"/>
<line x1="412" y1="126.59" x2="726.5" y2="126.59" stroke="#d0d0d0" stroke-width="0.9" stroke-dasharray="1 1.85"/>
<line x1="412" y1="126.59" x2="414" y2="126.59" stroke="#808080" stroke-width="0.9"/>
<line x1="724.5" y1="126.59" x2="726.5" y2="126.59" stroke="#808080" stroke-width="0.9"/>
<line x1="412" y1="123.11" x2="726.5" y2="123.11" stroke="#d0d0d0" stroke-width="0.9" stroke-dasharray="1 1.85"/>
<line x1="412" y1="123.11" x2="414" y2="123.11" stroke="#808080" stroke-width="0.9"/>
<line x1="724.5" y1="123.11" x2="726.5" y2="123.11" stroke="#808080" stroke-width="0.9"/>
<line x1="412" y1="120.05" x2="726.5" y2="120.05" stroke="#d0d0d0" stroke-width="0.9" stroke-dasharray="1 1.85"/>
<line x1="412" y1="120.05" x2="414" y2="120.05" stroke="#808080" stroke-width="0.9"/>
<line x1="724.5" y1="120.05" x2="726.5" y2="120.05" stroke="#808080" stroke-width="0.9"/>
<line x1="412" y1="117.3" x2="726.5" y2="117.3" stroke="#d0d0d0" stroke-width="0.9" stroke-dasharray="1 1.85"/>
<line x1="412" y1="117.3" x2="415.5" y2="117.3" stroke="#808080" stroke-width="0.9"/>
<line x1="723" y1="117.3" x2="726.5" y2="117.3" stroke="#808080" stroke-width="0.9"/>
<line x1="412" y1="99.24" x2="726.5" y2="99.24" stroke="#d0d0d0" stroke-width="0.9" stroke-dasharray="1 1.85"/>
<line x1="412" y1="99.24" x2="414" y2="99.24" stroke="#808080" stroke-width="0.9"/>
<line x1="724.5" y1="99.24" x2="726.5" y2="99.24" stroke="#808080" stroke-width="0.9"/>
<line x1="412" y1="88.67" x2="726.5" y2="88.67" stroke="#d0d0d0" stroke-width="0.9" stroke-dasharray="1 1.85"/>
<line x1="412" y1="88.67" x2="414" y2="88.67" stroke="#808080" stroke-width="0.9"/>
<line x1="724.5" y1="88.67" x2="726.5" y2="88.67" stroke="#808080" stroke-width="0.9"/>
<line x1="412" y1="81.18" x2="726.5" y2="81.18" stroke="#d0d0d0" stroke-width="0.9" stroke-dasharray="1 1.85"/>
<line x1="412" y1="81.18" x2="414" y2="81.18" stroke="#808080" stroke-width="0.9"/>
<line x1="724.5" y1="81.18" x2="726.5" y2="81.18" stroke="#808080" stroke-width="0.9"/>
<line x1="412" y1="75.36" x2="726.5" y2="75.36" stroke="#d0d0d0" stroke-width="0.9" stroke-dasharray="1 1.85"/>
<line x1="412" y1="75.36" x2="414" y2="75.36" stroke="#808080" stroke-width="0.9"/>
<line x1="724.5" y1="75.36" x2="726.5" y2="75.36" stroke="#808080" stroke-width="0.9"/>
<line x1="412" y1="70.61" x2="726.5" y2="70.61" stroke="#d0d0d0" stroke-width="0.9" stroke-dasharray="1 1.85"/>
<line x1="412" y1="70.61" x2="414" y2="70.61" stroke="#808080" stroke-width="0.9"/>
<line x1="724.5" y1="70.61" x2="726.5" y2="70.61" stroke="#808080" stroke-width="0.9"/>
<line x1="412" y1="66.59" x2="726.5" y2="66.59" stroke="#d0d0d0" stroke-width="0.9" stroke-dasharray="1 1.85"/>
<line x1="412" y1="66.59" x2="414" y2="66.59" stroke="#808080" stroke-width="0.9"/>
<line x1="724.5" y1="66.59" x2="726.5" y2="66.59" stroke="#808080" stroke-width="0.9"/>
<line x1="412" y1="63.11" x2="726.5" y2="63.11" stroke="#d0d0d0" stroke-width="0.9" stroke-dasharray="1 1.85"/>
<line x1="412" y1="63.11" x2="414" y2="63.11" stroke="#808080" stroke-width="0.9"/>
<line x1="724.5" y1="63.11" x2="726.5" y2="63.11" stroke="#808080" stroke-width="0.9"/>
<line x1="412" y1="60.05" x2="726.5" y2="60.05" stroke="#d0d0d0" stroke-width="0.9" stroke-dasharray="1 1.85"/>
<line x1="412" y1="60.05" x2="414" y2="60.05" stroke="#808080" stroke-width="0.9"/>
<line x1="724.5" y1="60.05" x2="726.5" y2="60.05" stroke="#808080" stroke-width="0.9"/>
<line x1="412" y1="57.3" x2="726.5" y2="57.3" stroke="#d0d0d0" stroke-width="0.9" stroke-dasharray="1 1.85"/>
<line x1="412" y1="57.3" x2="415.5" y2="57.3" stroke="#808080" stroke-width="0.9"/>
<line x1="723" y1="57.3" x2="726.5" y2="57.3" stroke="#808080" stroke-width="0.9"/>
<line x1="412" y1="39.24" x2="726.5" y2="39.24" stroke="#d0d0d0" stroke-width="0.9" stroke-dasharray="1 1.85"/>
<line x1="412" y1="39.24" x2="414" y2="39.24" stroke="#808080" stroke-width="0.9"/>
<line x1="724.5" y1="39.24" x2="726.5" y2="39.24" stroke="#808080" stroke-width="0.9"/>
<line x1="412" y1="28.67" x2="726.5" y2="28.67" stroke="#d0d0d0" stroke-width="0.9" stroke-dasharray="1 1.85"/>
<line x1="412" y1="28.67" x2="414" y2="28.67" stroke="#808080" stroke-width="0.9"/>
<line x1="724.5" y1="28.67" x2="726.5" y2="28.67" stroke="#808080" stroke-width="0.9"/>
<line x1="412" y1="21.18" x2="726.5" y2="21.18" stroke="#d0d0d0" stroke-width="0.9" stroke-dasharray="1 1.85"/>
<line x1="412" y1="21.18" x2="414" y2="21.18" stroke="#808080" stroke-width="0.9"/>
<line x1="724.5" y1="21.18" x2="726.5" y2="21.18" stroke="#808080" stroke-width="0.9"/>
<line x1="451.31" y1="297.3" x2="451.31" y2="294.3" stroke="#808080" stroke-width="0.9"/>
<line x1="451.31" y1="16" x2="451.31" y2="19" stroke="#808080" stroke-width="0.9"/>
<line x1="490.62" y1="297.3" x2="490.62" y2="294.3" stroke="#808080" stroke-width="0.9"/>
<line x1="490.62" y1="16" x2="490.62" y2="19" stroke="#808080" stroke-width="0.9"/>
<line x1="529.94" y1="297.3" x2="529.94" y2="294.3" stroke="#808080" stroke-width="0.9"/>
<line x1="529.94" y1="16" x2="529.94" y2="19" stroke="#808080" stroke-width="0.9"/>
<line x1="569.25" y1="297.3" x2="569.25" y2="294.3" stroke="#808080" stroke-width="0.9"/>
<line x1="569.25" y1="16" x2="569.25" y2="19" stroke="#808080" stroke-width="0.9"/>
<line x1="608.56" y1="297.3" x2="608.56" y2="294.3" stroke="#808080" stroke-width="0.9"/>
<line x1="608.56" y1="16" x2="608.56" y2="19" stroke="#808080" stroke-width="0.9"/>
<line x1="647.88" y1="297.3" x2="647.88" y2="294.3" stroke="#808080" stroke-width="0.9"/>
<line x1="647.88" y1="16" x2="647.88" y2="19" stroke="#808080" stroke-width="0.9"/>
<line x1="687.19" y1="297.3" x2="687.19" y2="294.3" stroke="#808080" stroke-width="0.9"/>
<line x1="687.19" y1="16" x2="687.19" y2="19" stroke="#808080" stroke-width="0.9"/>
<polyline points="422,130.69 428.54,133.85 435.08,136.87 441.62,139.76 448.15,142.53 454.69,145.18 461.23,147.71 467.77,150.14 474.31,152.45 480.85,154.66 487.38,156.78 493.92,158.8 500.46,160.73 507,162.57 513.54,164.34 520.08,166.03 526.62,167.64 533.15,169.19 539.69,170.68 546.23,172.11 552.77,173.48 559.31,174.8 565.85,176.08 572.38,177.31 578.92,178.51 585.46,179.68 592,180.82 598.54,181.93 605.08,183.02 611.62,184.1 618.15,185.17 624.69,186.23 631.23,187.29 637.77,188.36 644.31,189.43 650.85,190.51 657.38,191.6 663.92,192.72 670.46,193.86 677,195.02" fill="none" stroke="#ec1c24" stroke-width="1.5" stroke-linejoin="round"/>
<polyline points="422,113.6 428.54,114.67 435.08,115.84 441.62,117.11 448.15,118.46 454.69,119.87 461.23,121.33 467.77,123.06 474.31,124.05 480.85,124.68 487.38,125.18 493.92,125.63 500.46,126.14 507,126.71 513.54,127.3 520.08,127.88 526.62,128.45 533.15,129.02 539.69,129.57 546.23,130.09 552.77,130.61 559.31,131.2 565.85,131.83 572.38,132.5 578.92,133.2 585.46,133.93 592,134.67 598.54,135.43 605.08,136.19 611.62,136.98 618.15,137.81 624.69,138.66 631.23,139.52 637.77,140.36 644.31,141.16 650.85,141.93 657.38,142.69 663.92,143.42 670.46,144.13 677,144.8" fill="none" stroke="#ec1c24" stroke-width="1.5" stroke-dasharray="4 3" stroke-linejoin="round"/>
<polyline points="422,141.02 428.54,145.11 435.08,149.05 441.62,152.84 448.15,156.49 454.69,160 461.23,163.37 467.77,166.61 474.31,169.71 480.85,172.7 487.38,175.55 493.92,178.29 500.46,180.91 507,183.42 513.54,185.81 520.08,188.1 526.62,190.28 533.15,192.36 539.69,194.35 546.23,196.23 552.77,198.03 559.31,199.74 565.85,201.37 572.38,202.91 578.92,204.38 585.46,205.77 592,207.08 598.54,208.33 605.08,209.52 611.62,210.64 618.15,211.7 624.69,212.71 631.23,213.67 637.77,214.57 644.31,215.43 650.85,216.25 657.38,217.03 663.92,217.77 670.46,218.48 677,219.16" fill="none" stroke="#2b3fa8" stroke-width="1.5" stroke-linejoin="round"/>
<polyline points="422,127.25 428.54,129.69 435.08,131.98 441.62,134.11 448.15,136.12 454.69,137.99 461.23,139.57 467.77,140.95 474.31,142.15 480.85,143.11 487.38,143.88 493.92,144.52 500.46,145.03 507,145.45 513.54,145.81 520.08,146.1 526.62,146.34 533.15,146.54 539.69,146.72 546.23,146.91 552.77,147.12 559.31,147.37 565.85,147.65 572.38,147.95 578.92,148.27 585.46,148.61 592,148.97 598.54,149.35 605.08,149.74 611.62,150.17 618.15,150.66 624.69,151.18 631.23,151.72 637.77,152.25 644.31,152.74 650.85,153.21 657.38,153.68 663.92,154.14 670.46,154.61 677,155.1" fill="none" stroke="#2b3fa8" stroke-width="1.5" stroke-dasharray="4 3" stroke-linejoin="round"/>
<polyline points="422,109.2 443.5,110.9 461.5,104.7 481,107.2 500.6,115 521.9,111.6 539.8,115 559.6,118.2 581.2,129.3 598.9,124.3 618.4,119.3 640.3,120.5 659.8,130.5" fill="none" stroke="#202020" stroke-width="1.3" stroke-linejoin="round"/>
<line x1="422" y1="95" x2="422" y2="145.3" stroke="#202020" stroke-width="1.3"/>
<line x1="419.3" y1="95" x2="424.7" y2="95" stroke="#202020" stroke-width="1.3"/>
<line x1="419.3" y1="145.3" x2="424.7" y2="145.3" stroke="#202020" stroke-width="1.3"/>
<circle cx="422" cy="109.2" r="1.8" fill="#202020"/>
<line x1="443.5" y1="95.7" x2="443.5" y2="148.9" stroke="#202020" stroke-width="1.3"/>
<line x1="440.8" y1="95.7" x2="446.2" y2="95.7" stroke="#202020" stroke-width="1.3"/>
<line x1="440.8" y1="148.9" x2="446.2" y2="148.9" stroke="#202020" stroke-width="1.3"/>
<circle cx="443.5" cy="110.9" r="1.8" fill="#202020"/>
<line x1="461.5" y1="91.2" x2="461.5" y2="135.5" stroke="#202020" stroke-width="1.3"/>
<line x1="458.8" y1="91.2" x2="464.2" y2="91.2" stroke="#202020" stroke-width="1.3"/>
<line x1="458.8" y1="135.5" x2="464.2" y2="135.5" stroke="#202020" stroke-width="1.3"/>
<circle cx="461.5" cy="104.7" r="1.8" fill="#202020"/>
<line x1="481" y1="93.2" x2="481" y2="141" stroke="#202020" stroke-width="1.3"/>
<line x1="478.3" y1="93.2" x2="483.7" y2="93.2" stroke="#202020" stroke-width="1.3"/>
<line x1="478.3" y1="141" x2="483.7" y2="141" stroke="#202020" stroke-width="1.3"/>
<circle cx="481" cy="107.2" r="1.8" fill="#202020"/>
<line x1="500.6" y1="99.3" x2="500.6" y2="161.3" stroke="#202020" stroke-width="1.3"/>
<line x1="497.9" y1="99.3" x2="503.3" y2="99.3" stroke="#202020" stroke-width="1.3"/>
<line x1="497.9" y1="161.3" x2="503.3" y2="161.3" stroke="#202020" stroke-width="1.3"/>
<circle cx="500.6" cy="115" r="1.8" fill="#202020"/>
<line x1="521.9" y1="96.6" x2="521.9" y2="151.1" stroke="#202020" stroke-width="1.3"/>
<line x1="519.2" y1="96.6" x2="524.6" y2="96.6" stroke="#202020" stroke-width="1.3"/>
<line x1="519.2" y1="151.1" x2="524.6" y2="151.1" stroke="#202020" stroke-width="1.3"/>
<circle cx="521.9" cy="111.6" r="1.8" fill="#202020"/>
<line x1="539.8" y1="99.1" x2="539.8" y2="161.5" stroke="#202020" stroke-width="1.3"/>
<line x1="537.1" y1="99.1" x2="542.5" y2="99.1" stroke="#202020" stroke-width="1.3"/>
<line x1="537.1" y1="161.5" x2="542.5" y2="161.5" stroke="#202020" stroke-width="1.3"/>
<circle cx="539.8" cy="115" r="1.8" fill="#202020"/>
<line x1="559.6" y1="101" x2="559.6" y2="180.9" stroke="#202020" stroke-width="1.3"/>
<line x1="556.9" y1="101" x2="562.3" y2="101" stroke="#202020" stroke-width="1.3"/>
<line x1="556.9" y1="180.9" x2="562.3" y2="180.9" stroke="#202020" stroke-width="1.3"/>
<circle cx="559.6" cy="118.2" r="1.8" fill="#202020"/>
<line x1="581.2" y1="109.6" x2="581.2" y2="248.5" stroke="#202020" stroke-width="1.3"/>
<line x1="578.5" y1="109.6" x2="583.9" y2="109.6" stroke="#202020" stroke-width="1.3"/>
<line x1="578.5" y1="248.5" x2="583.9" y2="248.5" stroke="#202020" stroke-width="1.3"/>
<circle cx="581.2" cy="129.3" r="1.8" fill="#202020"/>
<line x1="598.9" y1="106" x2="598.9" y2="244" stroke="#202020" stroke-width="1.3"/>
<line x1="596.2" y1="106" x2="601.6" y2="106" stroke="#202020" stroke-width="1.3"/>
<line x1="596.2" y1="244" x2="601.6" y2="244" stroke="#202020" stroke-width="1.3"/>
<circle cx="598.9" cy="124.3" r="1.8" fill="#202020"/>
<line x1="618.4" y1="102.8" x2="618.4" y2="187" stroke="#202020" stroke-width="1.3"/>
<line x1="615.7" y1="102.8" x2="621.1" y2="102.8" stroke="#202020" stroke-width="1.3"/>
<line x1="615.7" y1="187" x2="621.1" y2="187" stroke="#202020" stroke-width="1.3"/>
<circle cx="618.4" cy="119.3" r="1.8" fill="#202020"/>
<line x1="640.3" y1="103.3" x2="640.3" y2="213.1" stroke="#202020" stroke-width="1.3"/>
<line x1="637.6" y1="103.3" x2="643" y2="103.3" stroke="#202020" stroke-width="1.3"/>
<line x1="637.6" y1="213.1" x2="643" y2="213.1" stroke="#202020" stroke-width="1.3"/>
<circle cx="640.3" cy="120.5" r="1.8" fill="#202020"/>
<line x1="659.8" y1="110.7" x2="659.8" y2="249.8" stroke="#202020" stroke-width="1.3"/>
<line x1="657.1" y1="110.7" x2="662.5" y2="110.7" stroke="#202020" stroke-width="1.3"/>
<line x1="657.1" y1="249.8" x2="662.5" y2="249.8" stroke="#202020" stroke-width="1.3"/>
<circle cx="659.8" cy="130.5" r="1.8" fill="#202020"/>
<rect x="647.8" y="70" width="30" height="227.3" fill="#f0e43c" fill-opacity="0.65"/>
<rect x="492.2" y="19" width="231.4" height="49.4" fill="#ffffff" stroke="#a0a0a0" stroke-width="1"/>
<polyline points="495.8,26 514.7,26" fill="none" stroke="#ec1c24" stroke-width="1.5" stroke-linejoin="round"/>
<text x="516.3" y="29.6" font-size="9.8" text-anchor="start" fill="#1a1a1a" textLength="164.4" lengthAdjust="spacingAndGlyphs">MIC fractions w\ Suprathermal Electrons</text>
<polyline points="495.8,38.1 514.7,38.1" fill="none" stroke="#ec1c24" stroke-width="1.5" stroke-dasharray="4 3" stroke-linejoin="round"/>
<text x="516.3" y="41.7" font-size="9.8" text-anchor="start" fill="#1a1a1a" textLength="194.3" lengthAdjust="spacingAndGlyphs">Equilibrium Fraction w\ Suprathermal Electrons</text>
<polyline points="495.8,49.9 514.7,49.9" fill="none" stroke="#2b3fa8" stroke-width="1.5" stroke-linejoin="round"/>
<text x="516.3" y="53.5" font-size="9.8" text-anchor="start" fill="#1a1a1a" textLength="55.7" lengthAdjust="spacingAndGlyphs">MIC Fractions</text>
<polyline points="495.8,61.4 514.7,61.4" fill="none" stroke="#2b3fa8" stroke-width="1.5" stroke-dasharray="4 3" stroke-linejoin="round"/>
<text x="516.3" y="65" font-size="9.8" text-anchor="start" fill="#1a1a1a" textLength="87.5" lengthAdjust="spacingAndGlyphs">Equilibrium Fractions</text>
<rect x="412" y="16" width="314.5" height="281.3" fill="none" stroke="#a0a0a0" stroke-width="1.1"/>
<text x="403.25" y="308.3" font-size="10.2" text-anchor="start" fill="#1a1a1a" textLength="16.9" lengthAdjust="spacingAndGlyphs">1.02</text>
<text x="442.56" y="308.3" font-size="10.2" text-anchor="start" fill="#1a1a1a" textLength="16.9" lengthAdjust="spacingAndGlyphs">1.04</text>
<text x="481.88" y="308.3" font-size="10.2" text-anchor="start" fill="#1a1a1a" textLength="16.9" lengthAdjust="spacingAndGlyphs">1.06</text>
<text x="521.19" y="308.3" font-size="10.2" text-anchor="start" fill="#1a1a1a" textLength="16.9" lengthAdjust="spacingAndGlyphs">1.08</text>
<text x="563.7" y="308.3" font-size="10.2" text-anchor="start" fill="#1a1a1a" textLength="10.5" lengthAdjust="spacingAndGlyphs">1.1</text>
<text x="599.81" y="308.3" font-size="10.2" text-anchor="start" fill="#1a1a1a" textLength="16.9" lengthAdjust="spacingAndGlyphs">1.12</text>
<text x="639.12" y="308.3" font-size="10.2" text-anchor="start" fill="#1a1a1a" textLength="16.9" lengthAdjust="spacingAndGlyphs">1.14</text>
<text x="678.44" y="308.3" font-size="10.2" text-anchor="start" fill="#1a1a1a" textLength="16.9" lengthAdjust="spacingAndGlyphs">1.16</text>
<text x="717.75" y="308.3" font-size="10.2" text-anchor="start" fill="#1a1a1a" textLength="16.9" lengthAdjust="spacingAndGlyphs">1.18</text>
<text x="392.2" y="301.2" font-size="10.2" text-anchor="start" fill="#1a1a1a" textLength="9.6" lengthAdjust="spacingAndGlyphs">10</text>
<text x="402.7" y="295.8" font-size="6.5" text-anchor="start" fill="#1a1a1a" textLength="7.9" lengthAdjust="spacingAndGlyphs">−3</text>
<text x="392.2" y="241.2" font-size="10.2" text-anchor="start" fill="#1a1a1a" textLength="9.6" lengthAdjust="spacingAndGlyphs">10</text>
<text x="402.7" y="235.8" font-size="6.5" text-anchor="start" fill="#1a1a1a" textLength="7.9" lengthAdjust="spacingAndGlyphs">−2</text>
<text x="392.2" y="181.2" font-size="10.2" text-anchor="start" fill="#1a1a1a" textLength="9.6" lengthAdjust="spacingAndGlyphs">10</text>
<text x="402.7" y="175.8" font-size="6.5" text-anchor="start" fill="#1a1a1a" textLength="7.9" lengthAdjust="spacingAndGlyphs">−1</text>
<text x="392.2" y="121.2" font-size="10.2" text-anchor="start" fill="#1a1a1a" textLength="9.6" lengthAdjust="spacingAndGlyphs">10</text>
<text x="402.7" y="115.8" font-size="6.5" text-anchor="start" fill="#1a1a1a" textLength="3.6" lengthAdjust="spacingAndGlyphs">0</text>
<text x="392.2" y="61.2" font-size="10.2" text-anchor="start" fill="#1a1a1a" textLength="9.6" lengthAdjust="spacingAndGlyphs">10</text>
<text x="402.7" y="55.8" font-size="6.5" text-anchor="start" fill="#1a1a1a" textLength="3.6" lengthAdjust="spacingAndGlyphs">1</text>
<text x="465.5" y="8.6" font-size="9.8" text-anchor="start" fill="#1a1a1a" textLength="181.5" lengthAdjust="spacingAndGlyphs">Synthetic and Observed Flux for Si X 261.057</text>
<text x="557" y="322.8" font-size="9.8" text-anchor="start" fill="#1a1a1a" textLength="20.1" lengthAdjust="spacingAndGlyphs">L[Rs]</text>
<text x="0" y="0" font-size="9.8" fill="#1a1a1a" textLength="82.1" lengthAdjust="spacingAndGlyphs" transform="translate(380.4,201.4) rotate(-90)">Flux [phot cm−2 s−1</text>
</svg>
</body></html>
